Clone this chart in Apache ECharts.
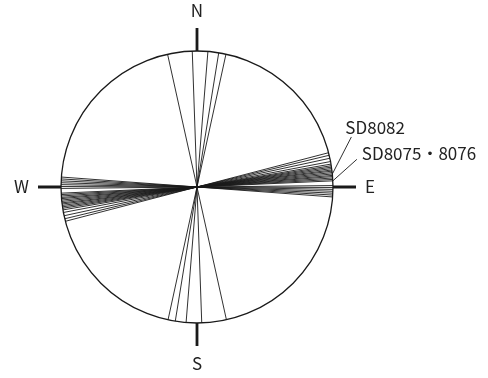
<!DOCTYPE html>
<html>
<head>
<meta charset="utf-8">
<script src="https://cdn.jsdelivr.net/npm/echarts@6/dist/echarts.min.js"></script>
<style>
  html, body { margin: 0; padding: 0; background: #fff; }
  #chart { width: 488px; height: 378px; }
</style>
</head>
<body>
<div id="chart"></div>
<script>
// Orientation of each feature's long axis (azimuth in degrees, clockwise from north).
// Each orientation is drawn as a full diameter through the centre.
const nsAzimuths = [347.5, 358.0, 4.6, 9.2, 12.3];
const ewAzimuths = [
  75.4, 76.5, 77.8, 79.2, 80.3,
  81.0, 81.6, 82.2, 82.8, 83.3, 83.9, 84.5, 85.1, 85.6, 86.2, 86.8, 87.4,
  89.4, 90.2, 91.0, 91.8, 92.6, 93.4, 94.2
];
// Annotated features
const calloutNames = ['SD8082', 'SD8075・8076'];
const calloutAzimuths = [84.5, 87.4];
// Compass points at 0°, 90°, 180°, 270°
const compassLabels = ['N', 'E', 'S', 'W'];

// Leader-line geometry for the callouts (pixel offsets from the rim point)
const calloutLayout = [
  { lineDx: 19, lineDy: -37, textDx: -6, textDy: -9.5 },
  { lineDx: 24, lineDy: -21.5, textDx: 5, textDy: -6 }
];

const FONT = '"Noto Sans CJK JP", "Noto Sans", sans-serif';
const INK = '#1a1a1a';

const chart = echarts.init(document.getElementById('chart'), null, { renderer: 'canvas' });

function diameter(params, api) {
  const az = api.value(1);
  const p1 = api.coord([1, az]);
  const p2 = api.coord([1, (az + 180) % 360]);
  return {
    type: 'line',
    shape: { x1: p1[0], y1: p1[1], x2: p2[0], y2: p2[1] },
    style: { stroke: INK, lineWidth: 0.9 }
  };
}

function callout(params, api) {
  const i = params.dataIndex;
  const lay = calloutLayout[i];
  const p = api.coord([1, api.value(1)]);
  const end = [p[0] + lay.lineDx, p[1] + lay.lineDy];
  return {
    type: 'group',
    children: [
      {
        type: 'line',
        shape: { x1: p[0], y1: p[1], x2: end[0], y2: end[1] },
        style: { stroke: INK, lineWidth: 0.9 }
      },
      {
        type: 'text',
        x: end[0] + lay.textDx,
        y: end[1] + lay.textDy,
        style: {
          text: calloutNames[i],
          font: '17px ' + FONT,
          fill: '#222',
          textAlign: 'left',
          textVerticalAlign: 'middle'
        }
      }
    ]
  };
}

const allAzimuths = nsAzimuths.concat(ewAzimuths);

chart.setOption({
  animation: false,
  backgroundColor: '#fff',
  polar: { center: [197, 187], radius: 136 },
  angleAxis: {
    type: 'value',
    min: 0,
    max: 360,
    interval: 90,
    startAngle: 90,
    clockwise: true,
    axisLine: { show: true, lineStyle: { color: INK, width: 1.3 } },
    axisTick: { show: true, inside: false, length: 23, lineStyle: { color: INK, width: 2.8 } },
    splitLine: { show: false },
    axisLabel: {
      show: true,
      margin: 32,
      color: '#222',
      fontSize: 17,
      fontFamily: FONT,
      formatter: function (v) {
        if (v >= 360) return '';
        return compassLabels[Math.round(v / 90) % 4];
      }
    }
  },
  radiusAxis: {
    type: 'value',
    min: 0,
    max: 1,
    axisLine: { show: false },
    axisTick: { show: false },
    axisLabel: { show: false },
    splitLine: { show: false }
  },
  series: [
    {
      type: 'custom',
      coordinateSystem: 'polar',
      renderItem: diameter,
      data: allAzimuths.map(function (a) { return [1, a]; }),
      silent: true
    },
    {
      type: 'custom',
      coordinateSystem: 'polar',
      renderItem: callout,
      data: calloutAzimuths.map(function (a) { return [1, a]; }),
      silent: true
    }
  ]
});
</script>
</body>
</html>
